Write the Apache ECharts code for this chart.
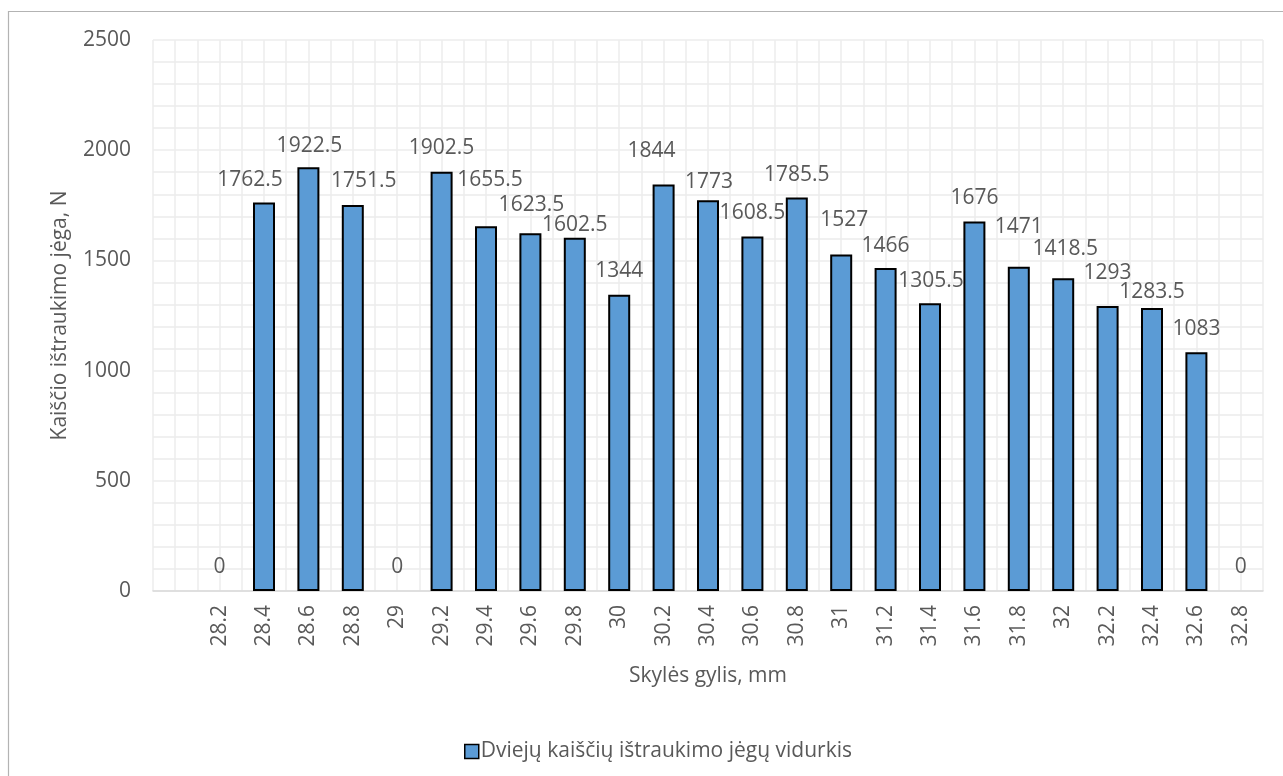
<!DOCTYPE html>
<html>
<head>
<meta charset="utf-8">
<title>Kaiščio ištraukimo jėga</title>
<script src="https://cdn.jsdelivr.net/npm/echarts@6/dist/echarts.min.js"></script>
<style>
  html, body { margin: 0; padding: 0; background: #ffffff; }
  #chart { width: 1283px; height: 776px; }
</style>
</head>
<body>
<div id="chart"></div>
<script>
// Hole depth categories (mm); the first slot is left blank
const depths = ['', '28.2', '28.4', '28.6', '28.8', '29', '29.2', '29.4', '29.6', '29.8', '30',
  '30.2', '30.4', '30.6', '30.8', '31', '31.2', '31.4', '31.6', '31.8', '32',
  '32.2', '32.4', '32.6', '32.8'];

// Mean pull-out force of two pins, N
const meanForce = [null, 0, 1762.5, 1922.5, 1751.5, 0, 1902.5, 1655.5, 1623.5, 1602.5, 1344,
  1844, 1773, 1608.5, 1785.5, 1527, 1466, 1305.5, 1676, 1471, 1418.5,
  1293, 1283.5, 1083, 0];

// Value axis ticks
const forceTicks = [0, 500, 1000, 1500, 2000, 2500];

const seriesName = 'Dviejų kaiščių ištraukimo jėgų vidurkis';
const xTitle = 'Skylės gylis, mm';
const yTitle = 'Kaiščio ištraukimo jėga, N';

// Hand-placed data label nudges [dx, dy] in px, one per category
const labelNudge = [[0, 0], [0, 0], [-14, 1], [1, 2], [11, 0], [0, 0], [0, 0], [4, -23], [1, -5], [0, 11], [0, 0],
  [-12, -10], [1, 5], [0, 0], [0, 1], [3, -11], [0, 2], [1, 1], [0, 0], [0, -16], [2, -6],
  [0, -10], [0, 7], [0, 0], [0, 0]];

const FONT = '"Open Sans", "Noto Sans", sans-serif';
const FS = 21;
const TEXT = '#595959';
const GRID = '#ececec';

const chart = echarts.init(document.getElementById('chart'), null, { renderer: 'canvas' });

const barData = meanForce.map((v, i) => {
  const item = {
    value: v,
    label: { offset: labelNudge[i] }
  };
  if (v === 0) item.itemStyle = { borderWidth: 0 };
  return item;
});

chart.setOption({
  backgroundColor: '#ffffff',
  animation: false,
  textStyle: { fontFamily: FONT, color: TEXT },
  graphic: [{
    type: 'rect',
    shape: { x: 8.5, y: 11.5, width: 1400, height: 900 },
    style: { fill: 'none', stroke: '#b3b3b3', lineWidth: 1.2 },
    silent: true,
    z: -10
  }],
  grid: { left: 153, right: 20, top: 40, bottom: 185, containLabel: false },
  legend: {
    data: [seriesName],
    left: 459,
    top: 736,
    itemWidth: 14,
    itemHeight: 14,
    icon: 'rect',
    itemStyle: { borderColor: '#000000', borderWidth: 1.5 },
    textStyle: { fontFamily: FONT, fontSize: FS, color: TEXT, padding: [0, 0, 0, -3] }
  },
  xAxis: [{
    type: 'category',
    data: depths,
    boundaryGap: true,
    name: xTitle,
    nameLocation: 'middle',
    nameGap: 75,
    nameTextStyle: { fontFamily: FONT, fontSize: FS, color: TEXT },
    axisLine: { show: true, lineStyle: { color: '#d9d9d9', width: 1.5 } },
    axisTick: { show: false },
    axisLabel: { rotate: 90, margin: 14, fontFamily: FONT, fontSize: FS, color: TEXT, interval: 0 },
    splitLine: { show: false }
  }, {
    // Half-category vertical grid
    type: 'value',
    position: 'top',
    min: 0,
    max: 50,
    interval: 1,
    axisLine: { show: false },
    axisTick: { show: false },
    axisLabel: { show: false },
    splitLine: { show: true, lineStyle: { color: GRID, width: 1.5 } }
  }],
  yAxis: {
    type: 'value',
    min: forceTicks[0],
    max: forceTicks[forceTicks.length - 1],
    interval: forceTicks[1] - forceTicks[0],
    name: yTitle,
    nameLocation: 'middle',
    nameGap: 82,
    nameRotate: 90,
    nameTextStyle: { fontFamily: FONT, fontSize: FS, color: TEXT },
    axisLine: { show: false },
    axisTick: { show: false },
    axisLabel: { margin: 22, fontFamily: FONT, fontSize: FS, color: TEXT, formatter: v => String(v) },
    splitLine: { show: true, lineStyle: { color: GRID, width: 1.5 } },
    minorTick: { show: false, splitNumber: 5 },
    minorSplitLine: { show: true, lineStyle: { color: GRID, width: 1.5 } }
  },
  series: [{
    name: seriesName,
    type: 'bar',
    xAxisIndex: 0,
    barWidth: 22,
    data: barData,
    itemStyle: { color: '#5b9bd5', borderColor: '#000000', borderWidth: 2 },
    label: {
      show: true,
      position: 'top',
      distance: 13,
      fontFamily: FONT,
      fontSize: FS,
      color: TEXT,
      formatter: p => String(p.value)
    },
    z: 3
  }]
});
</script>
</body>
</html>
